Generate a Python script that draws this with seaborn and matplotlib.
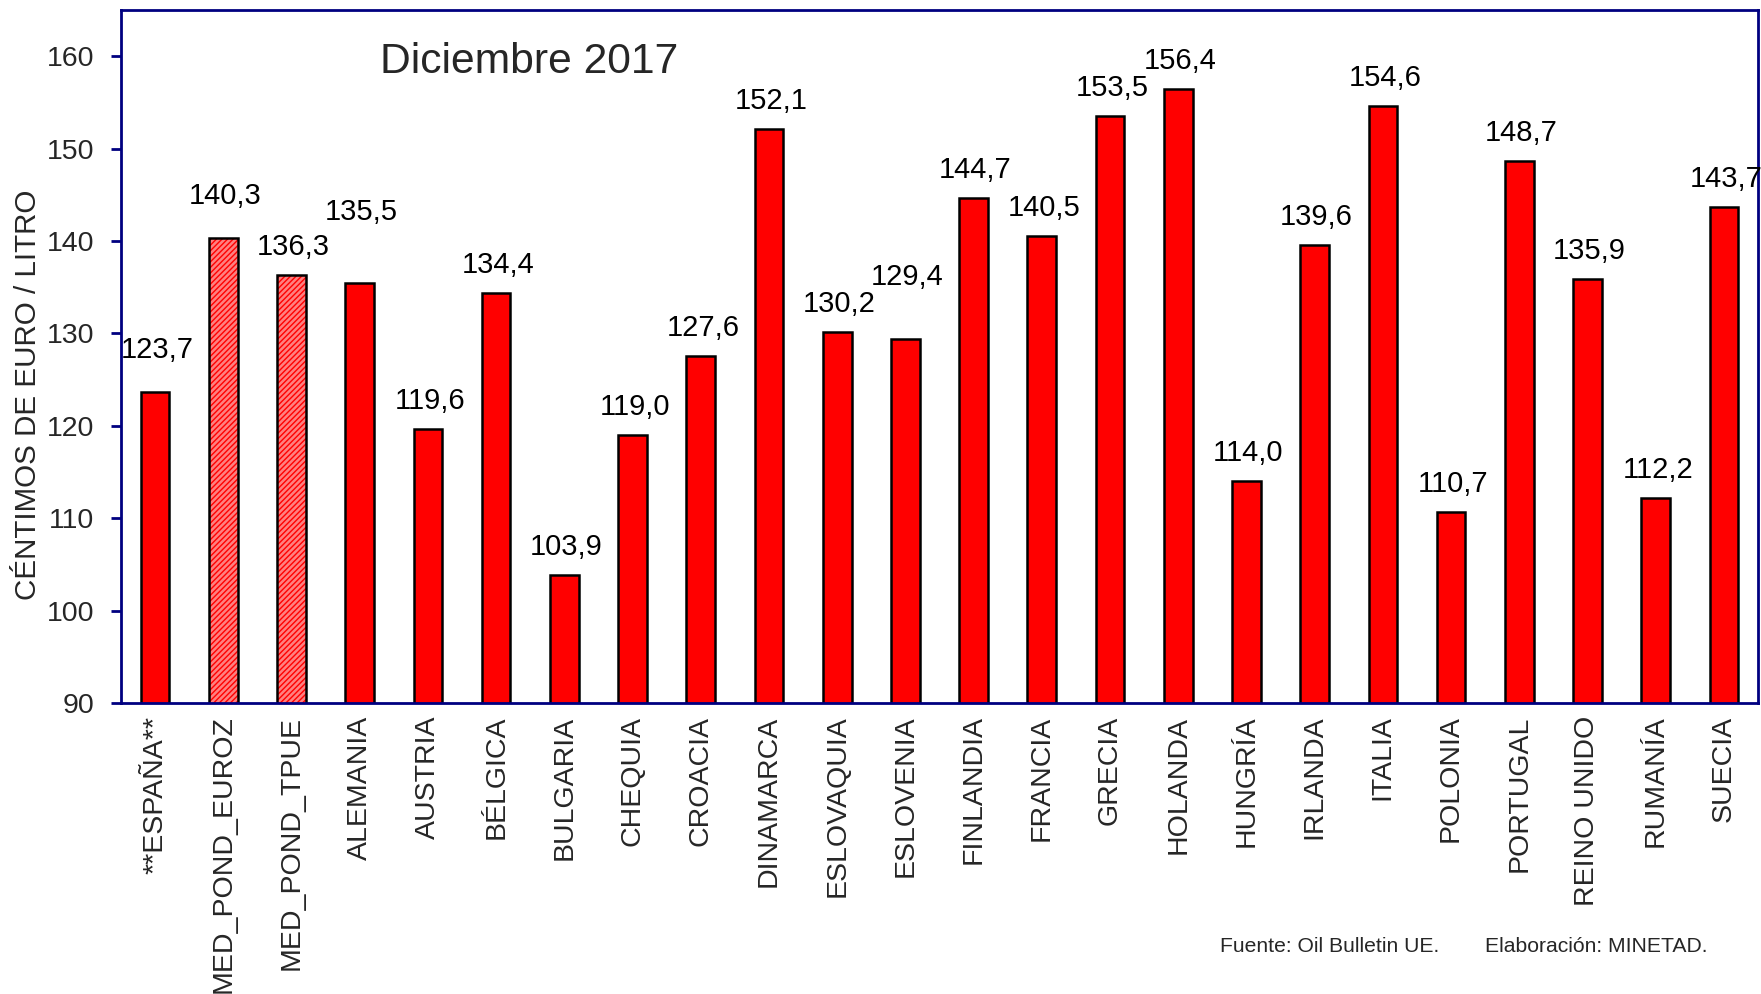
import matplotlib
matplotlib.use("Agg")
import matplotlib.pyplot as plt
import seaborn as sns
import pandas as pd
from matplotlib.patches import Rectangle

categories = ["**ESPAÑA**", "MED_POND_EUROZ", "MED_POND_TPUE", "ALEMANIA", "AUSTRIA",
              "BÉLGICA", "BULGARIA", "CHEQUIA", "CROACIA", "DINAMARCA", "ESLOVAQUIA",
              "ESLOVENIA", "FINLANDIA", "FRANCIA", "GRECIA", "HOLANDA", "HUNGRÍA",
              "IRLANDA", "ITALIA", "POLONIA", "PORTUGAL", "REINO UNIDO", "RUMANÍA", "SUECIA"]
values = [123.7, 140.3, 136.3, 135.5, 119.6, 134.4, 103.9, 119.0, 127.6, 152.1, 130.2,
          129.4, 144.7, 140.5, 153.5, 156.4, 114.0, 139.6, 154.6, 110.7, 148.7, 135.9,
          112.2, 143.7]
hatched = ["MED_POND_EUROZ", "MED_POND_TPUE"]
yticks = [90, 100, 110, 120, 130, 140, 150, 160]
title = "Diciembre 2017"
ylabel = "CÉNTIMOS DE EURO / LITRO"
source = "Fuente: Oil Bulletin UE."
author = "Elaboración: MINETAD."

# label placement tweaks (pixels) mimicking the original's collision offsets
label_extra = {0: 14, 1: 14, 3: 43, 11: 34}

sns.set_style("white")
plt.rcParams["font.family"] = ["Liberation Sans", "DejaVu Sans"]
plt.rcParams["hatch.linewidth"] = 1.0

fig = plt.figure(figsize=(17.61, 9.94), dpi=100)
ax = fig.add_axes([121 / 1761, 1 - 703 / 994, (1758 - 121) / 1761, (703 - 10) / 994])

df = pd.DataFrame({"cat": categories, "val": values})
sns.barplot(data=df, x="cat", y="val", color="#FF0000", saturation=1,
            edgecolor="black", linewidth=1.8, width=0.42, ax=ax)

navy = "#000080"
for i, p in enumerate(ax.patches):
    if categories[i] in hatched:
        p.set_facecolor("#FF8080")
        p.set_edgecolor("#FF0000")
        p.set_hatch("//////")
        p.set_linewidth(0)
        ax.add_patch(Rectangle((p.get_x(), p.get_y()), p.get_width(), p.get_height(),
                               fill=False, edgecolor="black", linewidth=1.8, zorder=p.get_zorder() + 0.1))

for i, (c, v) in enumerate(zip(categories, values)):
    ax.annotate(f"{v:.1f}".replace(".", ","), xy=(i, v), xytext=(2, 28 + label_extra.get(i, 0)),
                textcoords="offset pixels", ha="center", va="center", fontsize=21, color="black",
                annotation_clip=False)

ax.set_ylim(90, 165)
ax.set_xlim(-0.5, len(categories) - 0.5)
ax.set_yticks(yticks)
ax.set_yticklabels([str(t) for t in yticks], fontsize=20.5)
ax.tick_params(axis="y", direction="out", length=7, width=2, color=navy, pad=12, left=True)
ax.tick_params(axis="x", length=0, pad=9)
ax.set_xticks(range(len(categories)))
ax.set_xticklabels(categories, rotation=90, fontsize=20.5, va="top", ha="center")
ax.set_xlabel("")
ax.set_ylabel("")
for s in ax.spines.values():
    s.set_color(navy)
    s.set_linewidth(2)
    s.set_visible(True)

fig.text(28 / 1761, 1 - 395 / 994, ylabel, rotation=90, ha="center", va="center", fontsize=21.3)
fig.text(380 / 1761, 1 - 62 / 994, title, ha="left", va="center", fontsize=30.7)
fig.text(1220 / 1761, 1 - 946 / 994, source, ha="left", va="center", fontsize=15.2)
fig.text(1485 / 1761, 1 - 946 / 994, author, ha="left", va="center", fontsize=15.2)

fig.savefig("out.png", dpi=100)
